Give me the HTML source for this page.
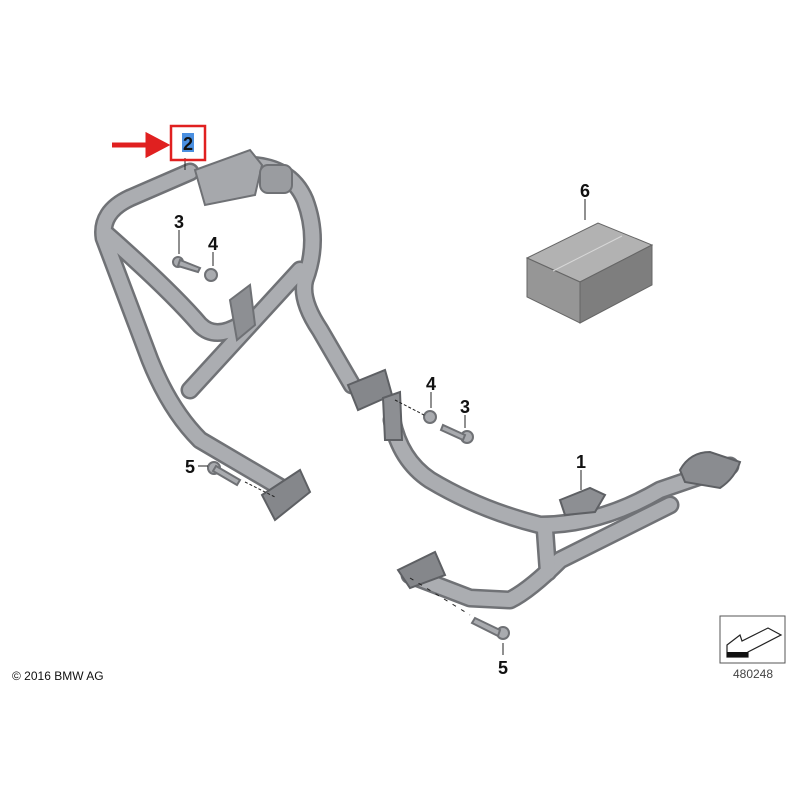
<!DOCTYPE html>
<html><head><style>
body{margin:0;background:#fff;}
svg{display:block;font-family:"Liberation Sans",sans-serif;}
.n{font-size:18px;font-weight:bold;fill:#111;}
</style></head><body>
<svg width="800" height="800" viewBox="0 0 800 800">
<defs>
<g id="tubeL">
<path d="M190,172 L130,198 Q100,212 104,238 L150,360 Q170,410 200,440 L285,490"/>
<path d="M104,232 Q170,290 200,325 Q215,340 240,325"/>
<path d="M190,390 L300,270"/>
<path d="M245,165 Q290,165 305,200 Q320,240 305,280 Q300,300 320,330 L352,385"/>
</g>
<g id="tubeR">
<path d="M392,420 Q400,460 430,480 Q480,510 540,525 Q600,525 660,490 L730,466"/>
<path d="M670,505 L560,560 Q530,590 510,600 L470,598 L410,575"/>
<path d="M545,530 L548,572"/>
</g>
</defs>
<g fill="none" stroke-linecap="round" stroke-linejoin="round">
<use href="#tubeL" stroke="#707276" stroke-width="19"/>
<use href="#tubeL" stroke="#abadb1" stroke-width="14"/>
<use href="#tubeR" stroke="#707276" stroke-width="19"/>
<use href="#tubeR" stroke="#abadb1" stroke-width="14"/>
</g>
<path d="M195,170 L250,150 L262,165 L255,195 L205,205 Z" fill="#a6a8ac" stroke="#6f7175" stroke-width="2"/>
<rect x="260" y="165" width="32" height="28" rx="8" fill="#9a9ca0" stroke="#6f7175" stroke-width="2"/>
<path d="M230,300 L250,285 L255,325 L237,340 Z" fill="#8d8f93" stroke="#6f7175" stroke-width="2"/>
<path d="M348,385 L385,370 L392,395 L358,410 Z" fill="#85878b" stroke="#5e6064" stroke-width="2"/>
<path d="M262,495 L300,470 L310,492 L275,520 Z" fill="#85878b" stroke="#5e6064" stroke-width="2"/>
<path d="M383,398 L400,392 L402,440 L385,440 Z" fill="#8d8f93" stroke="#5e6064" stroke-width="2"/>
<path d="M560,500 L590,488 L605,495 L595,512 L565,515 Z" fill="#8d8f93" stroke="#5e6064" stroke-width="2"/>
<path d="M680,470 Q690,452 710,452 L740,462 Q735,478 720,488 L685,482 Z" fill="#8a8c90" stroke="#5e6064" stroke-width="2"/>
<path d="M398,570 L435,552 L445,575 L410,588 Z" fill="#85878b" stroke="#5e6064" stroke-width="2"/>
<polygon points="527,258 598,223 652,245 580,282" fill="#b2b2b2" stroke="#666" stroke-width="1"/>
<polygon points="527,258 580,282 580,323 527,297" fill="#969696" stroke="#666" stroke-width="1"/>
<polygon points="580,282 652,245 652,285 580,323" fill="#7e7e7e" stroke="#666" stroke-width="1"/>
<line x1="553" y1="271" x2="622" y2="236" stroke="#d8d8d8"/>
<g fill="#a9abaf" stroke="#6f7175" stroke-width="2">
<circle cx="178" cy="262" r="5"/><path d="M180,260 L200,268 L198,272 L178,266Z"/>
<circle cx="211" cy="275" r="6"/>
<circle cx="214" cy="468" r="6"/><path d="M216,466 L240,480 L237,485 L213,471Z"/>
<circle cx="430" cy="417" r="6"/>
<circle cx="467" cy="437" r="6"/><path d="M465,435 L443,425 L441,430 L463,440Z"/>
<circle cx="503" cy="633" r="6"/><path d="M500,630 L475,618 L472,623 L498,636Z"/>
</g>
<g stroke="#222" stroke-width="1" fill="none">
<line x1="185" y1="158" x2="185" y2="170"/>
<line x1="179" y1="230" x2="179" y2="254"/>
<line x1="213" y1="252" x2="213" y2="266"/>
<line x1="198" y1="466" x2="208" y2="466"/>
<line x1="431" y1="392" x2="431" y2="408"/>
<line x1="465" y1="415" x2="465" y2="428"/>
<line x1="581" y1="470" x2="581" y2="490"/>
<line x1="503" y1="643" x2="503" y2="655"/>
<line x1="585" y1="199" x2="585" y2="220"/>
<line x1="395" y1="400" x2="426" y2="416" stroke-dasharray="3,2"/>
<line x1="245" y1="482" x2="275" y2="497" stroke-dasharray="3,2"/>
<line x1="410" y1="578" x2="470" y2="615" stroke-dasharray="4,6"/>
</g>
<rect x="171" y="126" width="34" height="34" fill="none" stroke="#e02020" stroke-width="2.5"/>
<rect x="182" y="133" width="12" height="19" fill="#4a8fe0"/>
<text x="188" y="150" class="n" text-anchor="middle">2</text>
<path d="M112,145 L148,145 L148,136 L165,145 L148,154 L148,145" fill="#e02020" stroke="#e02020" stroke-width="5"/>
<text x="179" y="228" class="n" text-anchor="middle">3</text>
<text x="213" y="250" class="n" text-anchor="middle">4</text>
<text x="190" y="473" class="n" text-anchor="middle">5</text>
<text x="431" y="390" class="n" text-anchor="middle">4</text>
<text x="465" y="413" class="n" text-anchor="middle">3</text>
<text x="581" y="468" class="n" text-anchor="middle">1</text>
<text x="503" y="674" class="n" text-anchor="middle">5</text>
<text x="585" y="197" class="n" text-anchor="middle">6</text>
<text x="12" y="680" font-size="12" fill="#111">© 2016 BMW AG</text>
<rect x="720" y="616" width="65" height="47" fill="#fff" stroke="#555"/>
<path d="M727,645 L740,635 L742,641 L768,628 L781,635 L748,652 L748,657 L727,657 Z" fill="#fff" stroke="#222" stroke-width="1.2"/>
<rect x="727" y="652" width="21" height="5" fill="#111"/>
<text x="753" y="678" font-size="12" fill="#444" text-anchor="middle">480248</text>
</svg>
</body></html>
